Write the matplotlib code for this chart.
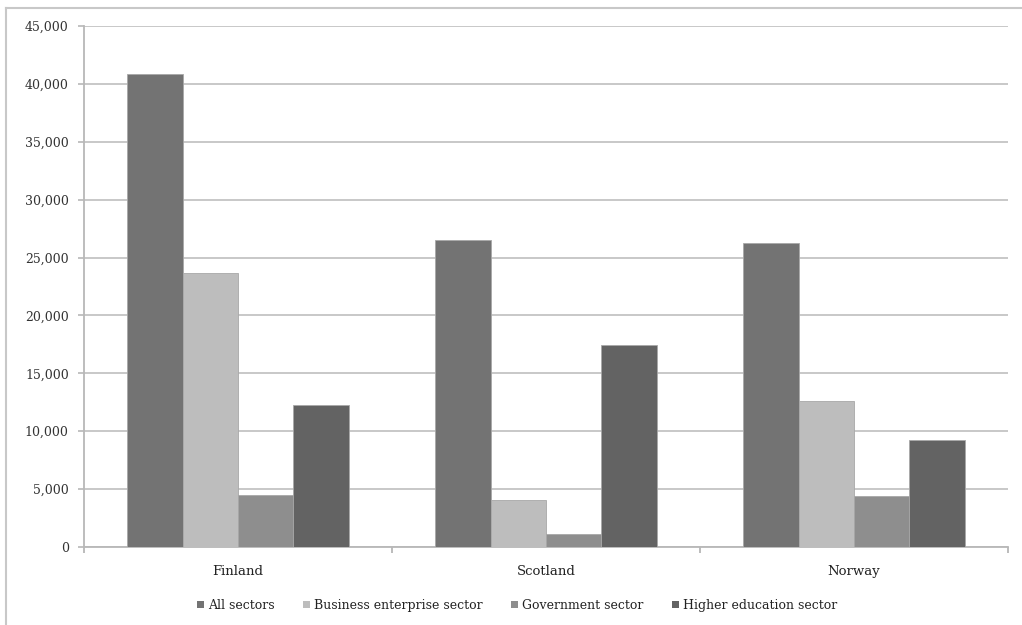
import numpy as np
import matplotlib
matplotlib.use("Agg")
import matplotlib.pyplot as plt
from matplotlib.patches import Patch
from matplotlib.lines import Line2D
from matplotlib.ticker import FuncFormatter, MultipleLocator

# ---------- data ----------
countries = ["Finland", "Scotland", "Norway"]
series_names = ["All sectors", "Business enterprise sector",
                "Government sector", "Higher education sector"]
all_sectors = [40850, 26500, 26300]
business = [23650, 4100, 12650]
government = [4500, 1100, 4400]
higher_ed = [12300, 17450, 9200]

colors = ["#737373", "#bdbdbd", "#8e8e8e", "#636363"]

plt.rcParams["font.family"] = ["DejaVu Serif"]

fig = plt.figure(figsize=(10.22, 6.25), dpi=100)
ax = fig.add_axes([84 / 1022, 78 / 625, 924 / 1022, 521 / 625])

x = np.arange(len(countries))
w = 0.18
for i, (vals, c, nm) in enumerate(zip([all_sectors, business, government, higher_ed],
                                      colors, series_names)):
    ax.bar(x + (i - 1.5) * w, vals, width=w, color=c, edgecolor="#a8a8a8",
           linewidth=0.6, label=nm, zorder=3)

ax.set_xlim(-0.5, len(countries) - 0.5)
ax.set_ylim(0, 45000)
ax.yaxis.set_major_locator(MultipleLocator(5000))
ax.yaxis.set_major_formatter(FuncFormatter(lambda v, p: f"{int(v):,}"))
ax.grid(axis="y", color="#c4c4c4", lw=1.3, zorder=0)
ax.set_axisbelow(True)

ax.set_xticks(x)
ax.set_xticklabels(countries)
ax.set_xticks(np.arange(-0.5, len(countries)), minor=True)
ax.tick_params(axis="x", which="major", length=0, pad=13, labelsize=9.5, labelcolor="#222")
ax.tick_params(axis="x", which="minor", length=4, color="#b0b0b0", width=1.2)
ax.tick_params(axis="y", length=4, color="#b8b8b8", width=1.2, pad=7,
               labelsize=9, labelcolor="#333")

for s in ("top", "right"):
    ax.spines[s].set_visible(False)
for s in ("left", "bottom"):
    ax.spines[s].set_color("#b8b8b8")
    ax.spines[s].set_linewidth(1.3)

handles = [Patch(facecolor=c, edgecolor="none") for c in colors]
fig.legend(handles, series_names, loc="center", bbox_to_anchor=(0.506, 0.031),
           ncol=4, frameon=False, fontsize=9, handlelength=0.55, handleheight=0.55,
           handletextpad=0.3, columnspacing=2.3, labelcolor="#222")

# light frame around the chart (top and left edges visible in the crop)
fig.add_artist(Line2D([6 / 1022, 1], [1 - 8 / 625, 1 - 8 / 625],
                      transform=fig.transFigure, color="#c8c8c8", lw=1.5))
fig.add_artist(Line2D([6 / 1022, 6 / 1022], [0, 1 - 8 / 625],
                      transform=fig.transFigure, color="#c8c8c8", lw=1.5))

fig.savefig("out.png", dpi=100)
